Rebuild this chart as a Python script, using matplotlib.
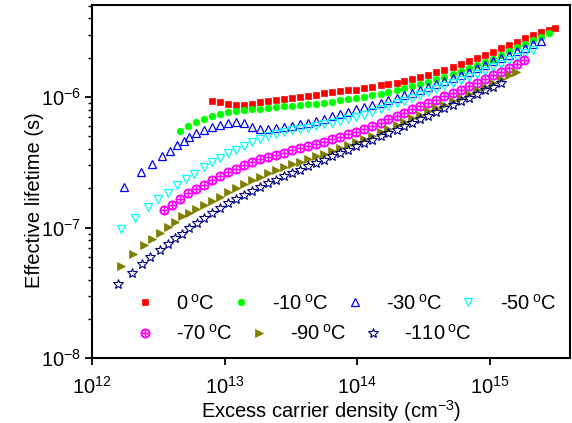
# ── 1. Packages ───────────────────────────────────────────────────────────────
import numpy as np
import matplotlib
matplotlib.use("Agg")
import matplotlib.pyplot as plt
from matplotlib import ticker

plt.rcParams["font.family"] = ["Liberation Sans", "DejaVu Sans"]
plt.rcParams["axes.unicode_minus"] = False
plt.rcParams["mathtext.fontset"] = "custom"
plt.rcParams["mathtext.rm"] = "Liberation Sans"
plt.rcParams["mathtext.it"] = "Liberation Sans:italic"
plt.rcParams["mathtext.bf"] = "Liberation Sans:bold"

# ── 2. Data ───────────────────────────────────────────────────────────────────
# excess carrier density in 1e12 cm^-3, effective lifetime in microseconds
n_0c = [8.03, 9.23, 10.6, 12.2, 14.0, 16.1, 18.5, 21.3, 24.5, 28.1,
        32.3, 37.2, 42.7, 49.1, 56.4, 64.8, 74.5, 85.7, 98.4, 113,
        130, 150, 172, 198, 227, 261, 300, 345, 396, 455,
        524, 602, 692, 795, 914, 1050, 1210, 1390, 1600, 1830,
        2110, 2420, 2790, 3090]
tau_0c = [0.937, 0.912, 0.889, 0.873, 0.873, 0.884, 0.912, 0.937, 0.954, 0.970,
          0.988, 1.005, 1.023, 1.045, 1.069, 1.088, 1.108, 1.124, 1.143, 1.172,
          1.201, 1.229, 1.260, 1.293, 1.333, 1.376, 1.426, 1.482, 1.546, 1.618,
          1.697, 1.780, 1.877, 1.983, 2.098, 2.224, 2.365, 2.507, 2.653, 2.812,
          2.979, 3.136, 3.29, 3.40]

n_m10c = [4.60, 5.29, 6.08, 6.99, 8.03, 9.23, 10.6, 12.2, 14.0, 16.1,
          18.5, 21.3, 24.5, 28.1, 32.3, 37.2, 42.7, 49.1, 56.4, 64.8,
          74.5, 85.7, 98.4, 113, 130, 150, 172, 198, 227, 261,
          300, 345, 396, 455, 524, 602, 692, 795, 914, 1050,
          1210, 1390, 1600, 1830, 2110, 2420, 2790]
tau_m10c = [0.552, 0.603, 0.647, 0.685, 0.721, 0.748, 0.767, 0.782, 0.795, 0.806,
            0.816, 0.828, 0.838, 0.849, 0.859, 0.868, 0.879, 0.893, 0.908, 0.924,
            0.943, 0.964, 0.984, 1.007, 1.034, 1.063, 1.096, 1.133, 1.172, 1.214,
            1.260, 1.310, 1.367, 1.431, 1.501, 1.577, 1.662, 1.752, 1.854, 1.972,
            2.109, 2.256, 2.407, 2.561, 2.714, 2.887, 3.08]

n_m30c = [1.75, 2.35, 2.83, 3.36, 3.89, 4.37, 4.91, 5.35,
          6.08, 6.99, 8.03, 9.23, 10.6, 12.2, 14.0, 16.1, 18.5, 21.3,
          24.5, 28.1, 32.3, 37.2, 42.7, 49.1, 56.4, 64.8, 74.5, 85.7,
          98.4, 113, 130, 150, 172, 198, 227, 261, 300, 345,
          396, 455, 524, 602, 692, 795, 914, 1050, 1210, 1390,
          1600, 1830, 2110, 2420]
tau_m30c = [0.204, 0.266, 0.308, 0.351, 0.390, 0.432, 0.465, 0.493,
            0.528, 0.562, 0.592, 0.616, 0.635, 0.647, 0.630, 0.589, 0.572, 0.569,
            0.575, 0.589, 0.603, 0.617, 0.635, 0.658, 0.684, 0.714, 0.745, 0.774,
            0.804, 0.838, 0.873, 0.909, 0.948, 0.988, 1.032, 1.079, 1.131, 1.189,
            1.251, 1.319, 1.393, 1.474, 1.563, 1.659, 1.762, 1.874, 1.990, 2.117,
            2.252, 2.395, 2.548, 2.700]

n_m50c = [1.65, 2.09, 2.62, 3.14, 3.73, 4.37, 5.11, 5.84,
          6.99, 8.03, 9.23, 10.6, 12.2, 14.0, 16.1, 18.5, 21.3, 24.5,
          28.1, 32.3, 37.2, 42.7, 49.1, 56.4, 64.8, 74.5, 85.7, 98.4,
          113, 130, 150, 172, 198, 227, 261, 300, 345, 396,
          455, 524, 602, 692, 795, 914, 1050, 1210, 1390, 1600,
          1830, 2110]
tau_m50c = [0.0975, 0.118, 0.143, 0.165, 0.186, 0.213, 0.235, 0.258,
            0.292, 0.318, 0.343, 0.370, 0.397, 0.425, 0.453, 0.479, 0.502, 0.523,
            0.542, 0.557, 0.570, 0.584, 0.600, 0.618, 0.636, 0.657, 0.678, 0.701,
            0.730, 0.765, 0.804, 0.849, 0.896, 0.937, 0.984, 1.036, 1.094, 1.158,
            1.216, 1.282, 1.352, 1.426, 1.509, 1.598, 1.697, 1.805, 1.921, 2.043,
            2.174, 2.312]

n_m70c = [3.48, 4.00, 4.60, 5.29, 6.08, 6.99, 8.03, 9.23, 10.6, 12.2,
          14.0, 16.1, 18.5, 21.3, 24.5, 28.1, 32.3, 37.2, 42.7, 49.1,
          56.4, 64.8, 74.5, 85.7, 98.4, 113, 130, 150, 172, 198,
          227, 261, 300, 345, 396, 455, 524, 602, 692, 795,
          914, 1050, 1210, 1390, 1600, 1800]
tau_m70c = [0.1357, 0.1495, 0.1662, 0.1832, 0.1983, 0.2140, 0.2299, 0.248, 0.2653, 0.2822,
            0.300, 0.318, 0.334, 0.349, 0.361, 0.376, 0.391, 0.406, 0.422, 0.439,
            0.457, 0.477, 0.496, 0.519, 0.544, 0.572, 0.603, 0.637, 0.676, 0.716,
            0.760, 0.804, 0.850, 0.899, 0.954, 1.011, 1.071, 1.137, 1.210, 1.287,
            1.371, 1.464, 1.563, 1.671, 1.790, 1.914]

n_m90c = [1.65, 2.05, 2.45, 2.83, 3.27, 3.73, 4.24, 4.76, 5.35,
          6.08, 6.99, 8.03, 9.23, 10.6, 12.2, 14.0, 16.1, 18.5, 21.3,
          24.5, 28.1, 32.3, 37.2, 42.7, 49.1, 56.4, 64.8, 74.5, 85.7,
          98.4, 113, 130, 150, 172, 198, 227, 261, 300, 345,
          396, 455, 524, 602, 692, 795, 914, 1050, 1210, 1390,
          1570]
tau_m90c = [0.0513, 0.0630, 0.0738, 0.0816, 0.0917, 0.102, 0.111, 0.122, 0.129,
            0.1381, 0.1482, 0.1590, 0.1722, 0.1865, 0.2018, 0.2166, 0.2312, 0.2451, 0.2607,
            0.2758, 0.2908, 0.3055, 0.3203, 0.3354, 0.3511, 0.3676, 0.3862, 0.4065, 0.4286,
            0.453, 0.479, 0.508, 0.539, 0.573, 0.609, 0.648, 0.688, 0.730, 0.776,
            0.823, 0.874, 0.930, 0.989, 1.054, 1.124, 1.199, 1.282, 1.371, 1.467,
            1.557]

n_m110c = [1.56, 2.00, 2.38, 2.74, 3.27, 3.73, 4.24, 4.76, 5.35, 6.18,
           6.99, 8.03, 9.23, 10.6, 12.2, 14.0, 16.1, 18.5, 21.3, 24.5,
           28.1, 32.3, 37.2, 42.7, 49.1, 56.4, 64.8, 74.5, 85.7, 98.4,
           113, 130, 150, 172, 198, 227, 261, 300, 345, 396,
           455, 524, 602, 692, 795, 914, 1050, 1210]
tau_m110c = [0.0371, 0.0453, 0.0528, 0.0594, 0.0676, 0.0751, 0.0831, 0.0897, 0.0991, 0.1083,
             0.1195, 0.1302, 0.1418, 0.1538, 0.1662, 0.1790, 0.1921, 0.2054, 0.2193, 0.2332,
             0.2476, 0.2629, 0.2787, 0.2954, 0.313, 0.332, 0.352, 0.373, 0.395, 0.419,
             0.444, 0.471, 0.500, 0.531, 0.564, 0.600, 0.639, 0.680, 0.723, 0.769,
             0.819, 0.873, 0.930, 0.991, 1.056, 1.125, 1.199, 1.275]

labels = ["0", "-10", "-30", "-50", "-70", "-90", "-110"]
series = [(n_0c, tau_0c), (n_m10c, tau_m10c), (n_m30c, tau_m30c), (n_m50c, tau_m50c),
          (n_m70c, tau_m70c), (n_m90c, tau_m90c), (n_m110c, tau_m110c)]

# ── 3. Styles ────────────────────────────────────────────────────────────────
styles = [
    dict(marker="s", ms=4.4, mfc="#ff0000", mec="#ff0000", mew=0.5),
    dict(marker="o", ms=4.8, mfc="#00ff00", mec="#00ff00", mew=0.5),
    dict(marker="^", ms=5.5, mfc="none", mec="#0000ff", mew=0.9),
    dict(marker="v", ms=5.5, mfc="none", mec="#00ffff", mew=0.9),
    dict(marker=r"$\oplus$", ms=6.3, mfc="#ff00ff", mec="#ff00ff", mew=0.9),
    dict(marker=">", ms=5.3, mfc="#808000", mec="#808000", mew=0.5),
    dict(marker="*", ms=7.0, mfc="none", mec="#000080", mew=0.8),
]

# ── 4. Plot ──────────────────────────────────────────────────────────────────
fig = plt.figure(figsize=(5.72, 4.23), dpi=100)
ax = fig.add_axes([0.161, 0.153, 0.836, 0.834])

handles = []
for (n, tau), lab, st in zip(series, labels, styles):
    h, = ax.plot(np.array(n) * 1e12, np.array(tau) * 1e-6, ls="none",
                 label=lab + r"$\,^{\rm o}$C", **st)
    handles.append(h)

ax.set_xscale("log")
ax.set_yscale("log")
ax.set_xlim(1e12, 4.05e15)
ax.set_ylim(1e-8, 5.03e-6)

ax.set_xlabel("Excess carrier density (cm$^{-3}$)", fontsize=14.5)
ax.set_ylabel("Effective lifetime (s)", fontsize=14.5)
ax.xaxis.set_label_coords(0.5, -0.113)
ax.yaxis.set_label_coords(-0.100, 0.449)

for s in ax.spines.values():
    s.set_linewidth(1.5)
ax.tick_params(axis="both", which="major", direction="out", length=5,
               width=1.3, labelsize=14.5, top=False, right=False)
ax.tick_params(axis="y", which="minor", direction="out", length=3, width=1.0)
ax.tick_params(axis="x", which="major", pad=8)
ax.tick_params(axis="y", which="major", pad=3)
ax.xaxis.set_major_locator(ticker.LogLocator(base=10, numticks=10))
ax.xaxis.set_minor_locator(ticker.NullLocator())

# legend in two rows, as in the original figure
kw = dict(frameon=False, fontsize=14.5, handlelength=1.4, handletextpad=0.84,
          columnspacing=0.62, borderpad=0, borderaxespad=0, loc="center left")
leg1 = ax.legend(handles=handles[:4], ncol=4, bbox_to_anchor=(0.0814, 0.156), **kw)
ax.add_artist(leg1)
ax.legend(handles=handles[4:], ncol=3, bbox_to_anchor=(0.0814, 0.069), **kw)

fig.savefig("out.png", dpi=100)
